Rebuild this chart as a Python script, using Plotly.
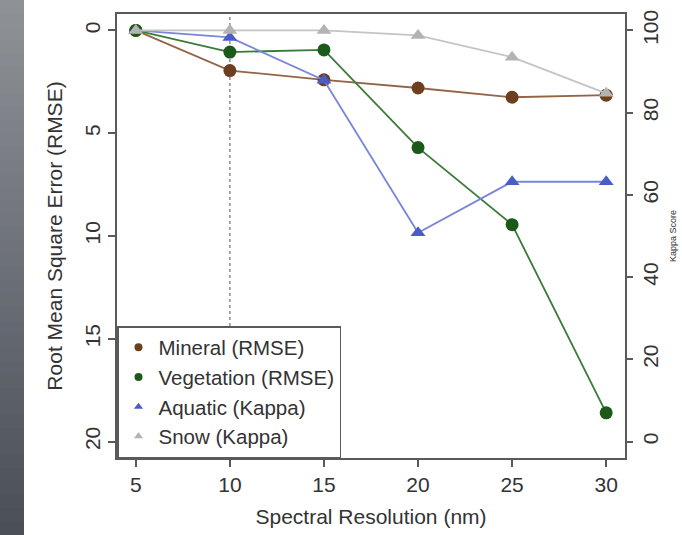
import plotly.graph_objects as go

# ---- data ----
resolution_nm = [5, 10, 15, 20, 25, 30]
mineral_rmse = [0.0, 1.95, 2.4, 2.8, 3.25, 3.15]
vegetation_rmse = [0.0, 1.05, 0.95, 5.7, 9.45, 18.6]
aquatic_kappa = [100.0, 98.3, 87.9, 50.8, 63.2, 63.2]
snow_kappa = [100.0, 100.0, 100.0, 98.8, 93.5, 84.7]
highlight_res = 10

x_ticks = [5, 10, 15, 20, 25, 30]
y_ticks = [0, 5, 10, 15, 20]
y2_ticks = [0, 20, 40, 60, 80, 100]

FONT = "Liberation Sans, Arial, sans-serif"
TXT = "#333333"
AX = "#5a5a5a"

series = [
    # name, y, axis, symbol, marker color, line color
    ("Aquatic (Kappa)", aquatic_kappa, "y2", "triangle-up", "#4a5cc8", "#7a86d8"),
    ("Mineral (RMSE)", mineral_rmse, "y", "circle", "#6e3f1e", "#946447"),
    ("Vegetation (RMSE)", vegetation_rmse, "y", "circle", "#1c5a1c", "#3a7a3a"),
    ("Snow (Kappa)", snow_kappa, "y2", "triangle-up", "#b3b3b3", "#c4c4c4"),
]

fig = go.Figure()
for name, ys, ax, sym, mc, lc in series:
    fig.add_trace(go.Scatter(
        x=resolution_nm, y=ys, yaxis=ax, mode="lines+markers", name=name,
        showlegend=False,
        line=dict(color=lc, width=1.8),
        marker=dict(symbol=sym, size=13, color=mc, line=dict(width=0)),
    ))

# legend entries (order as in reference)
legend_order = ["Mineral (RMSE)", "Vegetation (RMSE)", "Aquatic (Kappa)", "Snow (Kappa)"]
lookup = {s[0]: s for s in series}
for nm in legend_order:
    name, ys, ax, sym, mc, lc = lookup[nm]
    fig.add_trace(go.Scatter(
        x=[None], y=[None], yaxis=ax, mode="markers", name=name,
        marker=dict(symbol=sym, size=8, color=mc),
    ))

W, H = 682, 535
ml, mr, mt, mb = 117, 57, 14, 77
pw, ph = W - ml - mr, H - mt - mb

shapes = []
# dotted reference line at 10 nm
shapes.append(dict(type="line", xref="x", yref="paper", x0=highlight_res, x1=highlight_res,
                   y0=0, y1=1, line=dict(color="#8a8a8a", width=1.5, dash="dot"), layer="below"))
# dark gradient strip on the left edge (decoration)
n = 40
top = (142, 145, 150)
bot = (74, 79, 88)
x0p = -ml / pw
x1p = (24 - ml) / pw
y_lo = -mb / ph
y_hi = 1 + mt / ph
for i in range(n):
    t = i / (n - 1)
    c = tuple(int(round(top[k] + (bot[k] - top[k]) * t)) for k in range(3))
    ya = y_hi - (y_hi - y_lo) * i / n
    yb = y_hi - (y_hi - y_lo) * (i + 1) / n
    shapes.append(dict(type="rect", xref="paper", yref="paper", x0=x0p, x1=x1p,
                       y0=yb - 0.002, y1=ya, fillcolor="rgb(%d,%d,%d)" % c,
                       line=dict(width=0), layer="below"))

FS = 21
fig.update_layout(
    width=W, height=H,
    margin=dict(l=ml, r=mr, t=mt, b=mb, autoexpand=False),
    paper_bgcolor="white", plot_bgcolor="white",
    font=dict(family=FONT, color=TXT, size=FS),
    shapes=shapes,
    xaxis=dict(
        range=[4.0, 31.0], tickvals=x_ticks, ticks="outside", ticklen=7,
        tickcolor=AX, tickwidth=1.5, showgrid=False, zeroline=False,
        showline=True, linecolor=AX, linewidth=1.5, mirror=True,
        tickfont=dict(size=FS),
        title=dict(text="Spectral Resolution (nm)", font=dict(size=FS), standoff=14),
    ),
    yaxis=dict(
        range=[20.8, -0.8], tickvals=y_ticks, ticks="outside", ticklen=7,
        tickcolor=AX, tickwidth=1.5, showgrid=False, zeroline=False,
        showline=True, linecolor=AX, linewidth=1.5, mirror=True,
        tickangle=-90, tickfont=dict(size=FS),
        title=dict(text="Root Mean Square Error (RMSE)", font=dict(size=FS), standoff=12),
    ),
    yaxis2=dict(
        overlaying="y", side="right", range=[-4, 104], tickvals=y2_ticks,
        ticks="outside", ticklen=7, tickcolor=AX, tickwidth=1.5,
        showgrid=False, zeroline=False, showline=False,
        tickangle=-90, tickfont=dict(size=FS),
        title=dict(text="Kappa Score", font=dict(size=9), standoff=8),
    ),
    legend=dict(
        x=0, y=0, xanchor="left", yanchor="bottom",
        bgcolor="white", bordercolor=AX, borderwidth=1.5,
        font=dict(size=20.5, color=TXT), itemsizing="trace",
    ),
)

fig.write_html("out.html", config={"displayModeBar": False},
               post_script="document.body.style.margin='0';")
